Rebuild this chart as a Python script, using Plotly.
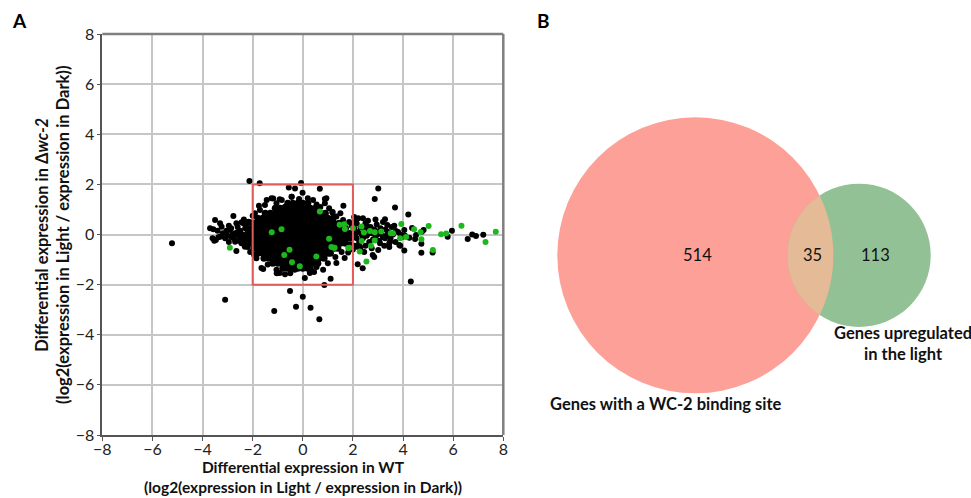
import numpy as np
import plotly.graph_objects as go

# ---------------- Panel A data ----------------
# dense core, written as rows (y level -> x positions)
core_rows = {
    1.25: [-0.6, -0.4, -0.2, 0.0, 0.2],
    1.05: [-1.1, -0.9, -0.7, -0.5, -0.3, -0.1, 0.1, 0.3, 0.5],
    0.85: [-1.5, -1.3, -1.1, -0.9, -0.7, -0.5, -0.3, -0.1, 0.1, 0.3, 0.5, 0.7, 0.9],
    0.65: [-1.8, -1.6, -1.4, -1.2, -1.0, -0.8, -0.6, -0.4, -0.2, 0.0, 0.2, 0.4, 0.6, 0.8, 1.0, 1.2],
    0.45: [-1.95, -1.75, -1.55, -1.35, -1.15, -0.95, -0.75, -0.55, -0.35, -0.15, 0.05, 0.25, 0.45, 0.65, 0.85, 1.05, 1.25, 1.45],
    0.25: [-2.05, -1.85, -1.65, -1.45, -1.25, -1.05, -0.85, -0.65, -0.45, -0.25, -0.05, 0.15, 0.35, 0.55, 0.75, 0.95, 1.15, 1.35, 1.55, 1.7],
    0.05: [-2.1, -1.9, -1.7, -1.5, -1.3, -1.1, -0.9, -0.7, -0.5, -0.3, -0.1, 0.1, 0.3, 0.5, 0.7, 0.9, 1.1, 1.3, 1.5, 1.7, 1.9],
    -0.15: [-2.05, -1.85, -1.65, -1.45, -1.25, -1.05, -0.85, -0.65, -0.45, -0.25, -0.05, 0.15, 0.35, 0.55, 0.75, 0.95, 1.15, 1.35, 1.55, 1.75, 1.9],
    -0.35: [-2.05, -1.9, -1.7, -1.5, -1.3, -1.1, -0.9, -0.7, -0.5, -0.3, -0.1, 0.1, 0.3, 0.5, 0.7, 0.9, 1.1, 1.3, 1.5, 1.7],
    -0.55: [-1.95, -1.75, -1.55, -1.35, -1.15, -0.95, -0.75, -0.55, -0.35, -0.15, 0.05, 0.25, 0.45, 0.65, 0.85, 1.05, 1.25, 1.4],
    -0.75: [-1.8, -1.6, -1.4, -1.2, -1.0, -0.8, -0.6, -0.4, -0.2, 0.0, 0.2, 0.4, 0.6, 0.8, 1.0, 1.1],
    -0.95: [-1.55, -1.35, -1.15, -0.95, -0.75, -0.55, -0.35, -0.15, 0.05, 0.25, 0.45, 0.65, 0.85],
    -1.15: [-1.2, -1.0, -0.8, -0.6, -0.4, -0.2, 0.0, 0.2, 0.4, 0.6],
    -1.35: [-0.8, -0.6, -0.4, -0.2, 0.0, 0.2, 0.3],
}

# scattered black genes (fringe, bands and outliers), as (WT, delta wc-2)
black_points = [
    # outliers
    (-5.22, -0.35), (-3.10, -2.60), (-1.14, -3.05), (-0.51, -2.25), (-0.27, -2.88),
    (0.0, -2.48), (0.31, -2.92), (0.66, -3.38), (0.86, -2.01), (1.11, -1.77),
    (4.31, -1.88), (-2.13, 2.13), (-1.72, 2.04), (-0.07, 2.05), (-0.01, 1.67),
    (0.68, 1.83), (-0.56, 1.88), (3.01, 1.84), (2.87, 1.42), (3.68, 1.08),
    (4.21, 0.80), (1.62, 1.15), (0.88, 1.42), (1.19, 0.90), (5.95, 0.15),
    (5.78, -0.09), (6.58, -0.18), (6.76, 0.0), (6.91, -0.06), (7.20, -0.01),
    (5.18, -0.72), (4.82, 0.18), (4.75, 0.11), (4.73, -0.73), (4.73, -0.37),
    (4.48, -0.18), (4.52, -0.02), (4.36, 0.26), (4.05, 0.18), (4.05, -0.64),
    (3.89, -0.45), (3.98, -0.09), (4.25, -0.13), (4.08, -0.05),
    # fringe above the core
    (-1.44, 1.38), (-1.18, 1.44), (-0.84, 1.38), (-0.71, 1.11), (-0.44, 1.51),
    (-0.31, 1.84), (-1.51, 1.18), (-1.71, 0.98), (-1.91, 0.85), (-1.25, 1.45),
    (-0.92, 1.41), (-0.45, 1.51), (0.41, 1.38), (0.94, 1.45), (0.88, 1.25),
    (1.18, 0.88), (0.2, 1.45), (0.55, 1.2), (-0.15, 1.42), (1.34, 0.72),
    (1.61, 0.58), (1.5, 0.85), (1.05, 1.05), (-2.0, 0.75), (-1.75, 1.15),
    (-1.05, 1.25), (0.7, 1.1),
    # fringe below the core
    (-1.65, -1.34), (-1.58, -1.38), (-1.05, -1.41), (-1.04, -1.55), (-0.92, -1.54),
    (-0.71, -1.59), (-0.32, -1.41), (0.08, -1.74), (0.28, -1.54), (0.81, -1.41),
    (1.34, -1.14), (1.67, -0.94), (1.81, -0.72), (-1.85, -0.95), (-1.4, -1.2),
    (0.55, -1.3), (1.0, -1.15), (-0.5, -1.55), (0.45, -1.5), (-1.95, -0.8),
    (1.3, -0.9), (1.55, -0.7),
    # band left of the box
    (-3.7, 0.25), (-3.57, 0.21), (-3.6, -0.15), (-3.53, -0.25), (-3.5, 0.58),
    (-3.47, -0.22), (-3.37, -0.11), (-3.3, 0.45), (-3.3, -0.09), (-3.24, 0.31),
    (-3.2, 0.05), (-3.1, -0.15), (-3.05, 0.15), (-2.95, -0.3), (-2.9, 0.18),
    (-2.86, 0.25), (-2.8, 0.0), (-2.77, 0.74), (-2.75, -0.15), (-2.7, -0.29),
    (-2.65, -0.66), (-2.6, 0.31), (-2.55, -0.05), (-2.5, 0.15), (-2.45, -0.35),
    (-2.44, 0.49), (-2.4, 0.0), (-2.37, 0.45), (-2.33, -0.42), (-2.31, -0.22),
    (-2.31, -0.49), (-2.3, 0.25), (-2.25, -0.1), (-2.2, 0.1), (-2.17, 0.51),
    (-2.15, -0.3), (-2.11, 0.05), (-2.08, 0.49), (-2.25, 0.35), (-2.6, 0.1),
    (-2.7, 0.05), (-2.85, -0.1), (-2.55, -0.25), (-2.4, -0.2), (-2.2, -0.5),
    (-2.1, -0.7), (-2.35, 0.6), (-2.65, 0.45), (-3.0, -0.05), (-2.95, 0.35),
    (-3.4, 0.15),
    # band right of the box
    (2.05, 0.25), (2.1, -0.1), (2.15, 0.45), (2.2, 0.1), (2.25, -0.3),
    (2.3, 0.3), (2.35, 0.0), (2.4, -0.15), (2.45, 0.2), (2.5, 0.45),
    (2.55, -0.05), (2.6, 0.15), (2.65, -0.3), (2.7, 0.3), (2.75, 0.05),
    (2.8, -0.2), (2.85, 0.2), (2.9, -0.05), (2.95, 0.4), (3.0, 0.1),
    (3.05, -0.25), (3.1, 0.25), (3.15, 0.0), (3.2, -0.1), (3.3, 0.2),
    (3.35, -0.05), (3.4, 0.1), (3.5, -0.15), (3.55, 0.3), (3.6, 0.0),
    (3.7, -0.3), (3.8, 0.1), (2.1, 0.6), (2.2, -0.5), (2.3, -0.6),
    (2.5, -0.45), (2.6, 0.55), (2.75, -0.55), (2.85, -0.9), (2.4, 0.65),
    (3.2, 0.5), (3.25, -0.45), (3.45, -0.5), (3.65, 0.35), (3.9, 0.0),
    (2.0, -0.6), (2.05, 0.7), (2.08, 0.61), (2.21, 0.65), (2.55, 0.34),
    (3.28, 0.61), (3.37, 0.38), (3.72, 0.14), (2.19, -1.19), (2.39, -1.35),
    (2.79, -0.82), (3.01, -0.62), (3.08, -0.35), (3.45, -0.35), (3.85, -0.42),
    (3.28, -0.15), (2.95, -0.02), (2.15, -0.15), (2.08, -0.45), (2.28, -0.49),
    (3.48, -0.29), (1.95, 0.35), (1.9, -0.4), (2.0, 0.05), (1.85, 0.5),
    (2.45, -0.7), (2.65, 0.05), (2.9, 0.6),
]

# light-regulated genes with a WC-2 binding site (green)
green_points = [
    (-0.85, 0.21), (-0.53, -0.61), (-0.43, -1.11), (-0.12, -1.27), (0.54, -0.88),
    (0.68, 0.92), (1.05, -0.17), (1.14, -0.50), (1.27, -0.53), (1.47, 0.39),
    (1.65, 0.41), (1.81, -0.54), (-1.24, 0.09), (-0.74, -0.82), (-2.91, -0.53),
    (1.68, 0.22), (2.0, 0.25), (2.34, 0.32), (2.44, 0.08), (2.68, 0.14),
    (2.87, 0.09), (3.13, 0.12), (3.51, 0.05), (3.6, 0.05), (3.88, -0.15),
    (1.24, -0.53), (1.86, -0.53), (2.35, -0.26), (2.72, -0.45), (2.27, -0.68),
    (2.54, -1.08), (2.87, -0.24), (3.93, 0.42), (4.12, -0.10), (4.44, 0.21),
    (4.70, 0.09), (4.73, -0.19), (5.02, 0.34), (5.19, -0.62), (5.52, 0.01),
    (5.72, 0.04), (6.33, 0.35), (7.29, -0.30), (7.70, 0.11),
]

axis_ticks = [-8, -6, -4, -2, 0, 2, 4, 6, 8]
box_limit = 2  # red square |x|,|y| <= 2

x_title = ["Differential expression in WT",
           "(log2(expression in Light / expression in Dark))"]
y_title = ["Differential expression in Δ<i>wc-2</i>",
           "(log2(expression in Light / expression in Dark))"]

# ---------------- Panel B data ----------------
venn_label_a = "Genes with a WC-2 binding site"
venn_label_b = ["Genes upregulated", "in the light"]
only_wc2 = 514
both = 35
only_light = 113

# ---------------- build panel A ----------------
core_x, core_y = [], []
for yv, xs in core_rows.items():
    core_x += xs
    core_y += [yv] * len(xs)
bx = [p[0] for p in black_points]
by = [p[1] for p in black_points]
gx = [p[0] for p in green_points]
gy = [p[1] for p in green_points]

W, H = 971, 498
font_main = "Lato, 'Open Sans', sans-serif"

fig = go.Figure()
fig.add_trace(go.Scatter(x=core_x, y=core_y, mode="markers", xaxis="x", yaxis="y",
                         marker=dict(size=7, color="#000000", line=dict(width=0)),
                         hoverinfo="skip", showlegend=False))
fig.add_trace(go.Scatter(x=bx, y=by, mode="markers", xaxis="x", yaxis="y",
                         marker=dict(size=6, color="#000000", line=dict(width=0)),
                         hoverinfo="skip", showlegend=False))
fig.add_trace(go.Scatter(x=gx, y=gy, mode="markers", xaxis="x", yaxis="y",
                         marker=dict(size=6, color="#1cb81c", line=dict(width=0)),
                         hoverinfo="skip", showlegend=False))

# plot-area pixel geometry
pa_l, pa_r, pa_t, pa_b = 102.3, 503.3, 34.0, 435.0

axis_common = dict(range=[-8, 8], tickvals=axis_ticks, showgrid=True,
                   gridcolor="#c6c6c6", gridwidth=1.6, zeroline=False,
                   showline=True, linecolor="#555555", linewidth=1.5,
                   ticks="outside", ticklen=4, tickwidth=1.2, tickcolor="#555555",
                   tickfont=dict(family=font_main, size=16, color="#222222"),
                   automargin=False, fixedrange=True)

fig.update_layout(
    template="none",
    width=W, height=H, autosize=False,
    margin=dict(l=0, r=0, t=0, b=0, pad=0, autoexpand=False),
    paper_bgcolor="white", plot_bgcolor="white",
    showlegend=False,
    xaxis=dict(domain=[pa_l / W, pa_r / W], anchor="y", ticklabelstandoff=-5, **axis_common),
    yaxis=dict(domain=[1 - pa_b / H, 1 - pa_t / H], anchor="x", ticklabelstandoff=-1, **axis_common),
)

shapes = []
# top / right frame
shapes.append(dict(type="line", xref="x domain", yref="y domain", x0=0, x1=1, y0=1, y1=1,
                   line=dict(color="#7f7f7f", width=2.5)))
shapes.append(dict(type="line", xref="x domain", yref="y domain", x0=1, x1=1, y0=0, y1=1,
                   line=dict(color="#7f7f7f", width=2.5)))
# red square
shapes.append(dict(type="rect", xref="x", yref="y", x0=-box_limit, x1=box_limit,
                   y0=-box_limit, y1=box_limit, line=dict(color="#e35a5a", width=2),
                   fillcolor="rgba(0,0,0,0)", layer="above"))

# ---------------- panel B: area-proportional Venn ----------------
r1 = np.sqrt((only_wc2 + both) / np.pi)
r2 = np.sqrt((only_light + both) / np.pi)


def lens_area(d):
    a = (d * d + r1 * r1 - r2 * r2) / (2 * d)
    b = d - a
    return (r1 * r1 * np.arccos(a / r1) - a * np.sqrt(r1 * r1 - a * a)
            + r2 * r2 * np.arccos(b / r2) - b * np.sqrt(r2 * r2 - b * b))


lo, hi = r1 - r2 + 1e-6, r1 + r2 - 1e-6
for _ in range(80):
    mid = (lo + hi) / 2
    if lens_area(mid) > both:
        lo = mid
    else:
        hi = mid
d = (lo + hi) / 2

# pixel placement of panel B
cx_px, cy_px, r1_px = 695.3, 255.3, 138.0
ppu = r1_px / r1
dom_x = (534.0, 971.0)
dom_y_top, dom_y_bot = 40.0, 460.0
fig.update_layout(
    xaxis2=dict(domain=[dom_x[0] / W, dom_x[1] / W], anchor="y2", visible=False,
                range=[(dom_x[0] - cx_px) / ppu, (dom_x[1] - cx_px) / ppu], fixedrange=True),
    yaxis2=dict(domain=[1 - dom_y_bot / H, 1 - dom_y_top / H], anchor="x2", visible=False,
                range=[(cy_px - dom_y_bot) / ppu, (cy_px - dom_y_top) / ppu], fixedrange=True),
)

shapes.append(dict(type="circle", xref="x2", yref="y2", x0=-r1, x1=r1, y0=-r1, y1=r1,
                   fillcolor="#fca098", line=dict(width=0), layer="below"))
shapes.append(dict(type="circle", xref="x2", yref="y2", x0=d - r2, x1=d + r2, y0=-r2, y1=r2,
                   fillcolor="#93c196", line=dict(width=0), layer="below"))
a = (d * d + r1 * r1 - r2 * r2) / (2 * d)
h = np.sqrt(r1 * r1 - a * a)
al = np.arctan2(h, a)
be = np.arctan2(h, d - a)
t1 = np.linspace(-al, al, 60)
t2 = np.linspace(np.pi - be, np.pi + be, 60)
px = list(r1 * np.cos(t1)) + list(d + r2 * np.cos(t2))
py = list(r1 * np.sin(t1)) + list(r2 * np.sin(t2))
path = "M " + " L ".join(f"{u:.4f},{v:.4f}" for u, v in zip(px, py)) + " Z"
shapes.append(dict(type="path", xref="x2", yref="y2", path=path,
                   fillcolor="#e5ba96", line=dict(width=0), layer="below"))
fig.update_layout(shapes=shapes)

ann = []
num_font = dict(family=font_main, size=16.5, color="#111111")
ann.append(dict(x=0.2, y=0, xref="x2", yref="y2", text=str(only_wc2), showarrow=False, font=num_font))
ann.append(dict(x=(r1 + d - r2) / 2 + 0.2, y=0, xref="x2", yref="y2", text=str(both), showarrow=False, font=num_font))
ann.append(dict(x=d + 1.6, y=0, xref="x2", yref="y2", text=str(only_light), showarrow=False, font=num_font))

lab_font = dict(family=font_main, size=16.5, color="#111111")


def paper_text(xp, yp, text, font, angle=0):
    ann.append(dict(x=xp / W, y=1 - yp / H, xref="paper", yref="paper", text=text,
                    showarrow=False, font=font, xanchor="center", yanchor="middle",
                    textangle=angle, align="center", borderpad=0))


paper_text(666, 404, "<b>" + venn_label_a + "</b>", lab_font)
paper_text(903, 343.5, "<b>" + "<br>".join(venn_label_b) + "</b>", lab_font)

# panel letters
letter_font = dict(family=font_main, size=19, color="#000")
paper_text(19, 21, "<b>A</b>", letter_font)
paper_text(543, 20, "<b>B</b>", letter_font)

# axis titles
title_font = dict(family=font_main, size=16.5, color="#111111")
x_title_font = dict(family=font_main, size=15.5, color="#111111")
paper_text(303, 477, "<b>" + "<br>".join(x_title) + "</b>", x_title_font)
paper_text(52, 235, "<b>" + "<br>".join(y_title) + "</b>", title_font, -90)
fig.update_layout(annotations=ann)

fig.write_html("out.html", config={"displayModeBar": False, "responsive": False},
               post_script="document.body.style.margin='0';")
